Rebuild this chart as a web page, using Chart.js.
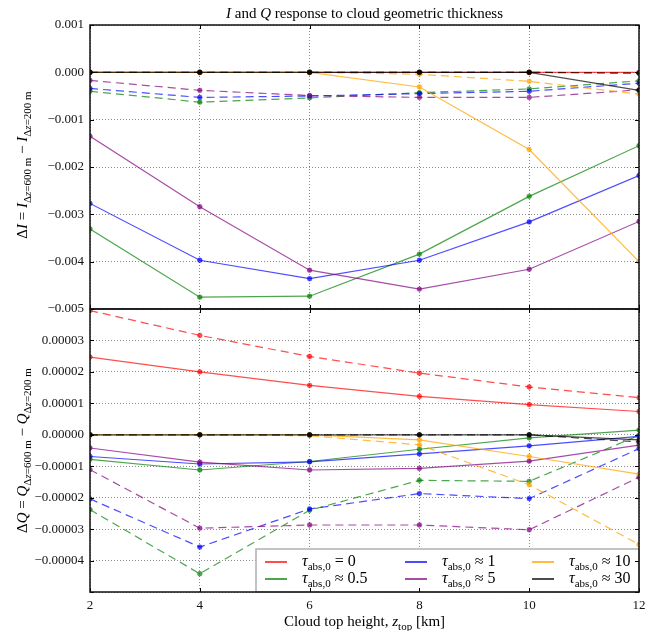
<!DOCTYPE html>
<html>
<head>
<meta charset="utf-8">
<script src="https://cdn.jsdelivr.net/npm/chart.js@4/dist/chart.umd.min.js"></script>
<style>
html, body { margin: 0; padding: 0; background: #fff; }
#wrap { position: relative; width: 645px; height: 631px; }
#topBox { position: absolute; left: 0; top: 0; width: 645px; height: 320px; }
#botBox { position: absolute; left: 0; top: 300px; width: 645px; height: 331px; }
</style>
</head>
<body>
<div id="wrap">
  <div id="topBox"><canvas id="topChart"></canvas></div>
  <div id="botBox"><canvas id="botChart"></canvas></div>
</div>
<script>
// cloud top heights (km)
const heights = [2, 4, 6, 8, 10, 12];
const tauNames = ['0', '0.5', '1', '5', '10', '30'];
const tauRel = ['=', '≈', '≈', '≈', '≈', '≈'];

// Delta I, solid lines
const dI_tau0 = [0, 0, 0, 0, 0, 0];
const dI_tau05 = [-0.00331, -0.00475, -0.00473, -0.00384, -0.00262, -0.00155];
const dI_tau1 = [-0.00277, -0.00397, -0.00436, -0.00397, -0.00316, -0.00218];
const dI_tau5 = [-0.00135, -0.00284, -0.00418, -0.00458, -0.00416, -0.00315];
const dI_tau10 = [0, 0, 0, -0.00031, -0.00163, -0.00400];
const dI_tau30 = [0, 0, 0, 0, 0, -0.00038];
// Delta I, dashed lines
const dI_tau0_d = [0, 0, 0, 0, 0, -0.00001];
const dI_tau05_d = [-0.00040, -0.00063, -0.00054, -0.00043, -0.00035, -0.00018];
const dI_tau1_d = [-0.00034, -0.00053, -0.00050, -0.00045, -0.00040, -0.00023];
const dI_tau5_d = [-0.00017, -0.00038, -0.00049, -0.00053, -0.00053, -0.00037];
const dI_tau10_d = [0, 0, 0, -0.00004, -0.00019, -0.00046];
const dI_tau30_d = [0, 0, 0, 0, 0, -0.00002];

// Delta Q, solid lines
const dQ_tau0 = [2.47e-5, 2.00e-5, 1.57e-5, 1.22e-5, 0.96e-5, 0.74e-5];
const dQ_tau05 = [-0.78e-5, -1.12e-5, -0.85e-5, -0.46e-5, -0.10e-5, 0.15e-5];
const dQ_tau1 = [-0.69e-5, -0.93e-5, -0.86e-5, -0.61e-5, -0.35e-5, -0.05e-5];
const dQ_tau5 = [-0.42e-5, -0.87e-5, -1.12e-5, -1.07e-5, -0.84e-5, -0.33e-5];
const dQ_tau10 = [0, 0, 0, -0.16e-5, -0.69e-5, -1.25e-5];
const dQ_tau30 = [0, 0, 0, 0, 0, -0.16e-5];
// Delta Q, dashed lines
const dQ_tau0_d = [3.95e-5, 3.16e-5, 2.49e-5, 1.96e-5, 1.52e-5, 1.18e-5];
const dQ_tau05_d = [-2.38e-5, -4.42e-5, -2.40e-5, -1.45e-5, -1.48e-5, -0.02e-5];
const dQ_tau1_d = [-2.04e-5, -3.57e-5, -2.36e-5, -1.87e-5, -2.03e-5, -0.44e-5];
const dQ_tau5_d = [-1.11e-5, -2.97e-5, -2.87e-5, -2.87e-5, -3.02e-5, -1.35e-5];
const dQ_tau10_d = [0, 0, -0.03e-5, -0.32e-5, -1.59e-5, -3.49e-5];
const dQ_tau30_d = [0, 0, 0, 0, 0, -0.23e-5];

const topTicks = [0.001, 0, -0.001, -0.002, -0.003, -0.004, -0.005];
const botTicks = [0.00004, 0.00003, 0.00002, 0.00001, 0, -0.00001, -0.00002, -0.00003, -0.00004, -0.00005];
const xTicks = [2, 4, 6, 8, 10, 12];

const colors = ['rgba(255,0,0,0.7)', 'rgba(0,128,0,0.7)', 'rgba(0,0,255,0.7)',
  'rgba(128,0,128,0.7)', 'rgba(255,165,0,0.75)', 'rgba(0,0,0,0.7)'];

const FONT = '"Liberation Serif", "DejaVu Serif", serif';

// later series are drawn over earlier ones, like matplotlib
function makeSets(solid, dashed) {
  const sets = [];
  solid.forEach((arr, i) => {
    sets.push({
      data: heights.map((h, j) => ({ x: h, y: arr[j] })),
      order: 20 - 2 * i,
      borderColor: colors[i], backgroundColor: colors[i],
      pointBackgroundColor: colors[i], pointBorderColor: colors[i],
      borderWidth: 1.2, pointRadius: 2.4, pointBorderWidth: 0.5
    });
    sets.push({
      data: heights.map((h, j) => ({ x: h, y: dashed[i][j] })),
      order: 19 - 2 * i,
      borderColor: colors[i], backgroundColor: colors[i],
      pointBackgroundColor: colors[i], pointBorderColor: colors[i],
      borderWidth: 1.2, borderDash: [8, 5], pointRadius: 2.4, pointBorderWidth: 0.5
    });
  });
  return sets;
}

// draw text made of pieces: n normal, i italic, s subscript, si italic subscript
function richText(ctx, parts, x, y, size, align) {
  const sub = Math.round(size * 0.7);
  const fontOf = p => (p[1].indexOf('i') >= 0 ? 'italic ' : '') +
    (p[1].indexOf('s') >= 0 ? sub : size) + 'px ' + FONT;
  let w = 0;
  parts.forEach(p => { ctx.font = fontOf(p); w += ctx.measureText(p[0]).width; });
  let cx = align === 'center' ? x - w / 2 : x;
  ctx.textAlign = 'left';
  ctx.textBaseline = 'alphabetic';
  parts.forEach(p => {
    ctx.font = fontOf(p);
    ctx.fillText(p[0], cx, y + (p[1].indexOf('s') >= 0 ? size * 0.28 : 0));
    cx += ctx.measureText(p[0]).width;
  });
}

function fmt(v, d) {
  if (Math.abs(v) < 1e-12) v = 0;
  return (v < 0 ? '\u2212' : '') + Math.abs(v).toFixed(d);
}

const framePlugin = {
  id: 'frame',
  afterDatasetsDraw(chart) {
    const { ctx, chartArea: a, scales } = chart;
    ctx.save();
    ctx.strokeStyle = '#000';
    ctx.lineWidth = 1;
    ctx.beginPath();
    scales.x.ticks.forEach(t => {
      const px = Math.round(scales.x.getPixelForValue(t.value)) + 0.5;
      ctx.moveTo(px, a.bottom); ctx.lineTo(px, a.bottom - 4);
      ctx.moveTo(px, a.top); ctx.lineTo(px, a.top + 4);
    });
    scales.y.ticks.forEach(t => {
      const py = Math.round(scales.y.getPixelForValue(t.value)) + 0.5;
      ctx.moveTo(a.left, py); ctx.lineTo(a.left + 4, py);
      ctx.moveTo(a.right, py); ctx.lineTo(a.right - 4, py);
    });
    ctx.stroke();
    ctx.lineWidth = 1.5;
    ctx.strokeStyle = '#111';
    ctx.strokeRect(a.left, a.top, a.right - a.left, a.bottom - a.top);
    ctx.restore();
  }
};

const topLabelPlugin = {
  id: 'topLabels',
  afterDraw(chart) {
    const { ctx, chartArea: a } = chart;
    ctx.save();
    ctx.fillStyle = '#000';
    richText(ctx, [['I', 'i'], [' and ', 'n'], ['Q', 'i'], [' response to cloud geometric thickness', 'n']],
      (a.left + a.right) / 2, 18, 15, 'center');
    ctx.translate(22, (a.top + a.bottom) / 2 - 2);
    ctx.rotate(-Math.PI / 2);
    richText(ctx, [['Δ', 'n'], ['I', 'i'], [' = ', 'n'], ['I', 'i'], ['Δ', 's'], ['z', 'si'], ['=600 m', 's'],
      [' \u2212 ', 'n'], ['I', 'i'], ['Δ', 's'], ['z', 'si'], ['=200 m', 's']], 0, 5, 15, 'center');
    ctx.restore();
  }
};

const botLabelPlugin = {
  id: 'botLabels',
  afterDraw(chart) {
    const { ctx, chartArea: a } = chart;
    ctx.save();
    ctx.fillStyle = '#000';
    richText(ctx, [['Cloud top height, ', 'n'], ['z', 'i'], ['top', 's'], [' [km]', 'n']],
      (a.left + a.right) / 2, a.bottom + 34, 15, 'center');
    ctx.translate(22, (a.top + a.bottom) / 2);
    ctx.rotate(-Math.PI / 2);
    richText(ctx, [['Δ', 'n'], ['Q', 'i'], [' = ', 'n'], ['Q', 'i'], ['Δ', 's'], ['z', 'si'], ['=600 m', 's'],
      [' \u2212 ', 'n'], ['Q', 'i'], ['Δ', 's'], ['z', 'si'], ['=200 m', 's']], 0, 5, 15, 'center');
    ctx.restore();
  }
};

const legendPlugin = {
  id: 'legendBox',
  afterDatasetsDraw(chart) {
    const { ctx, chartArea: a } = chart;
    const x0 = a.left + 166, y0 = a.bottom - 43;
    ctx.save();
    ctx.fillStyle = '#fff';
    ctx.fillRect(x0, y0, a.right - x0, a.bottom - y0);
    ctx.strokeStyle = '#b0b0b0';
    ctx.lineWidth = 1.5;
    ctx.strokeRect(x0, y0, a.right - x0, a.bottom - y0);
    const colX = [a.left + 175, a.left + 315, a.left + 442];
    const rowY = [a.bottom - 30, a.bottom - 13];
    const order = [[0, 1], [2, 3], [4, 5]];
    order.forEach((col, c) => {
      col.forEach((k, r) => {
        ctx.strokeStyle = colors[k];
        ctx.lineWidth = 2;
        ctx.beginPath();
        ctx.moveTo(colX[c], rowY[r]);
        ctx.lineTo(colX[c] + 22, rowY[r]);
        ctx.stroke();
        ctx.fillStyle = '#000';
        richText(ctx, [['τ', 'i'], ['abs,0', 's'], [' ' + tauRel[k] + ' ' + tauNames[k], 'n']],
          colX[c] + 37, rowY[r] + 4, 16, 'left');
      });
    });
    ctx.restore();
  }
};

function yScale(ticks, dec, hideEnds) {
  return {
    type: 'linear',
    min: ticks[ticks.length - 1], max: ticks[0],
    afterBuildTicks: s => { s.ticks = ticks.map(v => ({ value: v })); },
    afterFit: s => { s.width = 90; s.paddingTop = 0; s.paddingBottom = 0; },
    grid: { color: '#8c8c8c', lineWidth: 1, drawTicks: false },
    border: { display: false, dash: [1, 2] },
    ticks: {
      padding: 6, color: '#111', font: { family: FONT, size: 13 },
      callback: (v, i) => (hideEnds && (i === 0 || i === ticks.length - 1)) ? '' : fmt(v, dec)
    }
  };
}

function xScale(showLabels, h) {
  return {
    type: 'linear', min: 2, max: 12,
    afterBuildTicks: s => { s.ticks = xTicks.map(v => ({ value: v })); },
    afterFit: s => { s.height = h; s.paddingLeft = 0; s.paddingRight = 0; },
    grid: { color: '#8c8c8c', lineWidth: 1, drawTicks: false },
    border: { display: false, dash: [1, 2] },
    ticks: { display: showLabels, padding: 6, color: '#111', font: { family: FONT, size: 13 } }
  };
}

const common = {
  responsive: true,
  maintainAspectRatio: false,
  animation: false,
  events: [],
  plugins: { legend: { display: false }, tooltip: { enabled: false } }
};

new Chart(document.getElementById('topChart').getContext('2d'), {
  type: 'line',
  data: {
    datasets: makeSets([dI_tau0, dI_tau05, dI_tau1, dI_tau5, dI_tau10, dI_tau30],
      [dI_tau0_d, dI_tau05_d, dI_tau1_d, dI_tau5_d, dI_tau10_d, dI_tau30_d])
  },
  options: Object.assign({}, common, {
    layout: { padding: { left: 0, right: 6, top: 25, bottom: 11 } },
    scales: { x: xScale(false, 0), y: yScale(topTicks, 3, false) }
  }),
  plugins: [framePlugin, topLabelPlugin]
});

new Chart(document.getElementById('botChart').getContext('2d'), {
  type: 'line',
  data: {
    datasets: makeSets([dQ_tau0, dQ_tau05, dQ_tau1, dQ_tau5, dQ_tau10, dQ_tau30],
      [dQ_tau0_d, dQ_tau05_d, dQ_tau1_d, dQ_tau5_d, dQ_tau10_d, dQ_tau30_d])
  },
  options: Object.assign({}, common, {
    layout: { padding: { left: 0, right: 6, top: 9, bottom: 0 } },
    scales: { x: xScale(true, 39), y: yScale(botTicks, 5, true) }
  }),
  plugins: [legendPlugin, framePlugin, botLabelPlugin]
});
</script>
</body>
</html>
